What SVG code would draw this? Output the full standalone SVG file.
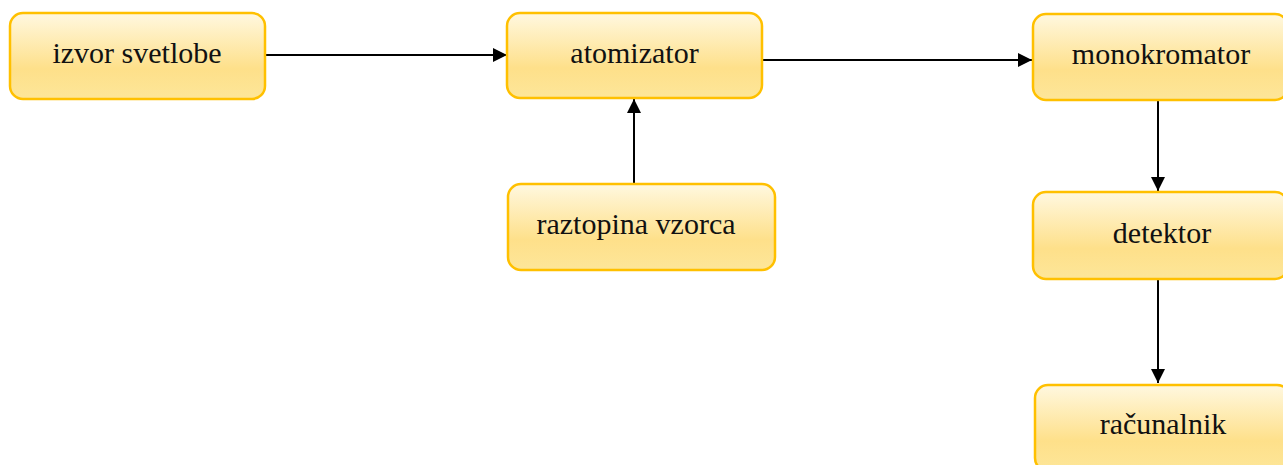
<svg xmlns="http://www.w3.org/2000/svg" width="1283" height="465" viewBox="0 0 1283 465">
<style>
.box{fill:url(#g);stroke:#FFC000;stroke-width:2.5}
.lbl{font-family:'Liberation Serif','Times New Roman',serif;font-size:30px;fill:#111;text-anchor:middle}
.con{stroke:#000;stroke-width:2;fill:none;marker-end:url(#ah)}
</style>
<defs>
<linearGradient id="g" x1="0" y1="0" x2="0" y2="1">
<stop offset="0" stop-color="#FFF8E0"/>
<stop offset="0.65" stop-color="#FEE08A"/>
<stop offset="1" stop-color="#FDE699"/>
</linearGradient>
<marker id="ah" viewBox="0 0 10 10" refX="10" refY="5" markerWidth="8" markerHeight="7" markerUnits="strokeWidth" orient="auto">
<path d="M0,0 L10,5 L0,10 Z" fill="#000"/>
</marker>
</defs>
<g id="connectors">
<line class="con" x1="265" y1="55" x2="507" y2="55"/>
<line class="con" x1="762" y1="60" x2="1032" y2="60"/>
<line class="con" x1="634" y1="184" x2="634" y2="99"/>
<line class="con" x1="1158" y1="100" x2="1158" y2="191"/>
<line class="con" x1="1158" y1="279" x2="1158" y2="383"/>
</g>
<g id="izvor"><rect class="box" x="10" y="13" width="255" height="86" rx="13"/><text class="lbl" x="137" y="63">izvor svetlobe</text></g>
<g id="atomizator"><rect class="box" x="507" y="13" width="255" height="85" rx="13"/><text class="lbl" x="634.5" y="63">atomizator</text></g>
<g id="monokromator"><rect class="box" x="1033" y="14" width="255" height="86" rx="13"/><text class="lbl" x="1161" y="64">monokromator</text></g>
<g id="raztopina"><rect class="box" x="508" y="184" width="267" height="86" rx="13"/><text class="lbl" x="636" y="234">raztopina vzorca</text></g>
<g id="detektor"><rect class="box" x="1033" y="192" width="255" height="87" rx="13"/><text class="lbl" x="1162" y="243">detektor</text></g>
<g id="racunalnik"><rect class="box" x="1035" y="385" width="255" height="86" rx="13"/><text class="lbl" x="1163" y="434">računalnik</text></g>
</svg>
